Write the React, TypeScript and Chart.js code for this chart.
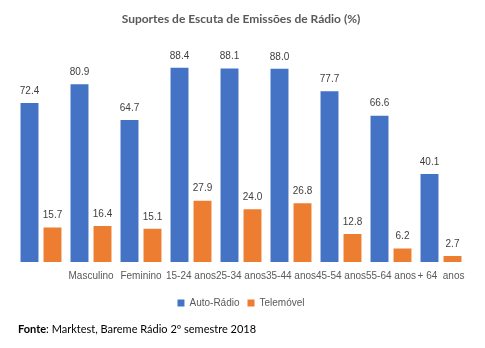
import React, { useEffect, useRef } from "react";
import { Chart, registerables } from "chart.js";

Chart.register(...registerables);

const TITLE = "Suportes de Escuta de Emissões de Rádio (%)";
const categories = ["", "Masculino", "Feminino", "15-24 anos", "25-34 anos", "35-44 anos", "45-54 anos", "55-64 anos", "+ 64  anos"];
const autoRadio = [72.4, 80.9, 64.7, 88.4, 88.1, 88.0, 77.7, 66.6, 40.1];
const telemovel = [15.7, 16.4, 15.1, 27.9, 24.0, 26.8, 12.8, 6.2, 2.7];
const seriesNames = ["Auto-Rádio", "Telemóvel"];
const FONT = "'Liberation Sans', Arial, sans-serif";
const TFONT = "Lato, 'Liberation Sans', sans-serif";

const labelPlugin = {
  id: "valueLabels",
  afterDatasetsDraw(chart: any) {
    const ctx = chart.ctx;
    ctx.save();
    ctx.font = `10px ${FONT}`;
    ctx.fillStyle = "#404040";
    ctx.textAlign = "center";
    ctx.textBaseline = "middle";
    chart.data.datasets.forEach((ds: any, di: number) => {
      const meta = chart.getDatasetMeta(di);
      meta.data.forEach((bar: any, i: number) => {
        ctx.fillText(Number(ds.data[i]).toFixed(1), bar.x, bar.y - 12);
      });
    });
    ctx.restore();
  },
};

const footerPlugin = {
  id: "footer",
  afterDraw(chart: any) {
    const ctx = chart.ctx;
    ctx.save();
    ctx.fillStyle = "#000000";
    ctx.textBaseline = "middle";
    ctx.textAlign = "left";
    ctx.font = `bold 11px ${TFONT}`;
    const b = "Fonte";
    ctx.fillText(b, 18, 329);
    const w = ctx.measureText(b).width;
    ctx.font = `11px ${TFONT}`;
    ctx.fillText(": Marktest, Bareme Rádio 2º semestre 2018", 18 + w, 329);
    ctx.restore();
  },
};

export default function App() {
  const ref = useRef<HTMLCanvasElement>(null);
  useEffect(() => {
    const chart = new Chart(ref.current!, {
      type: "bar",
      data: {
        labels: categories,
        datasets: [
          { label: seriesNames[0], data: autoRadio, backgroundColor: "#4472C4", categoryPercentage: 0.92, barPercentage: 0.78 },
          { label: seriesNames[1], data: telemovel, backgroundColor: "#ED7D31", categoryPercentage: 0.92, barPercentage: 0.78 },
        ],
      },
      options: {
        animation: false,
        responsive: false,
        layout: { padding: { left: 16, right: 19, top: 0, bottom: 30 } },
        plugins: {
          title: {
            display: true,
            text: TITLE,
            color: "#595959",
            font: { family: TFONT, size: 12, weight: "bold" },
            padding: { top: 12, bottom: 16 },
          },
          legend: {
            position: "bottom",
            labels: {
              color: "#595959",
              font: { family: FONT, size: 10 },
              boxWidth: 7,
              boxHeight: 7,
              padding: 8,
            },
          },
          tooltip: { enabled: false },
        },
        scales: {
          x: {
            grid: { display: false, drawTicks: false },
            border: { display: false },
            ticks: { color: "#595959", font: { family: FONT, size: 10 }, maxRotation: 0, autoSkip: false, padding: 8 },
          },
          y: {
            display: false,
            min: 0,
            max: 100,
          },
        },
      },
      plugins: [labelPlugin, footerPlugin],
    });
    return () => chart.destroy();
  }, []);
  return (
    <div style={{ position: "fixed", left: 0, top: 0, width: 485, height: 348, background: "#fff" }}>
      <canvas ref={ref} width={485} height={348} style={{ width: 485, height: 348 }} />
    </div>
  );
}
